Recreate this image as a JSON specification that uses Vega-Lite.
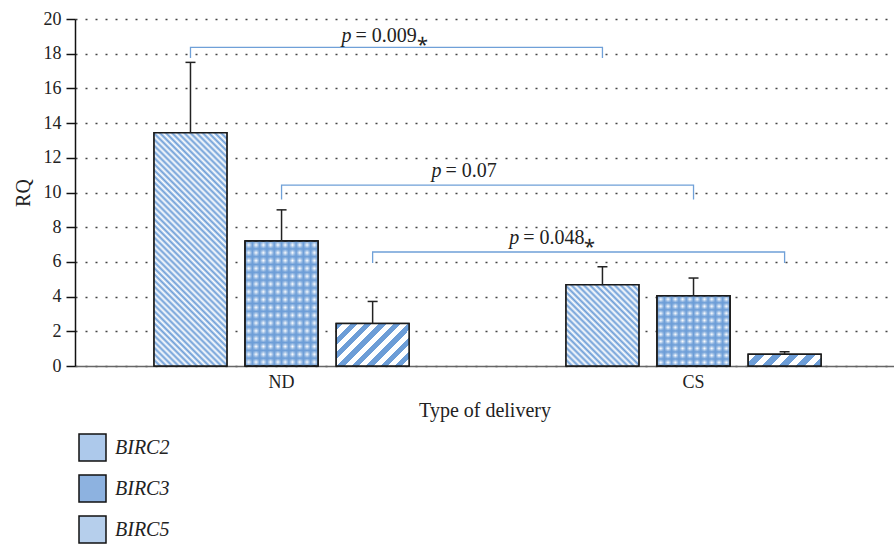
{
  "$schema": "https://vega.github.io/schema/vega-lite/v6.json",
  "width": 819,
  "height": 347,
  "autosize": {"type": "none"},
  "padding": {"left": 75, "top": 19, "right": 0, "bottom": 179},
  "background": "white",
  "config": {
    "font": "Liberation Serif",
    "view": {"stroke": null},
    "axisY": {
      "grid": true, "gridDash": [2, 8], "gridColor": "#444", "gridWidth": 1.5,
      "domainColor": "#111", "domainWidth": 1.5, "tickColor": "#111", "tickWidth": 1.5, "tickSize": 9,
      "labelFontSize": 18, "labelColor": "#222", "labelPadding": 5,
      "titleFontSize": 20, "titleFontWeight": "normal", "titleColor": "#222", "titlePadding": 10,
      "tickCount": 10
    },
    "axisX": {
      "domainColor": "#666", "domainWidth": 1.5, "ticks": false, "grid": false,
      "labelFontSize": 18, "labelColor": "#222", "labelPadding": 7, "labelAngle": 0,
      "titleFontSize": 20, "titleFontWeight": "normal", "titleColor": "#222", "titlePadding": 9
    },
    "legend": {
      "orient": "none", "legendX": 3, "legendY": 414, "direction": "vertical",
      "symbolType": "square", "symbolSize": 729, "symbolStrokeColor": "#111", "symbolStrokeWidth": 1.5,
      "symbolOpacity": 1, "labelFontSize": 20, "labelFontStyle": "italic", "labelColor": "#222",
      "labelOffset": 8, "rowPadding": 8, "padding": 0
    }
  },
  "datasets": {
    "bars": [
      {"delivery": "ND", "gene": "BIRC2", "rq": 13.45, "upper": 17.5},
      {"delivery": "ND", "gene": "BIRC3", "rq": 7.2, "upper": 9.0},
      {"delivery": "ND", "gene": "BIRC5", "rq": 2.45, "upper": 3.72},
      {"delivery": "CS", "gene": "BIRC2", "rq": 4.68, "upper": 5.72},
      {"delivery": "CS", "gene": "BIRC3", "rq": 4.05, "upper": 5.07},
      {"delivery": "CS", "gene": "BIRC5", "rq": 0.68, "upper": 0.82}
    ],
    "brackets": [
      {"bracket": "b1", "delivery": "ND", "gene": "BIRC2", "y": 17.75, "step": 1},
      {"bracket": "b1", "delivery": "ND", "gene": "BIRC2", "y": 18.37, "step": 2},
      {"bracket": "b1", "delivery": "CS", "gene": "BIRC2", "y": 18.37, "step": 3},
      {"bracket": "b1", "delivery": "CS", "gene": "BIRC2", "y": 17.75, "step": 4},
      {"bracket": "b2", "delivery": "ND", "gene": "BIRC3", "y": 9.6, "step": 1},
      {"bracket": "b2", "delivery": "ND", "gene": "BIRC3", "y": 10.43, "step": 2},
      {"bracket": "b2", "delivery": "CS", "gene": "BIRC3", "y": 10.43, "step": 3},
      {"bracket": "b2", "delivery": "CS", "gene": "BIRC3", "y": 9.6, "step": 4},
      {"bracket": "b3", "delivery": "ND", "gene": "BIRC5", "y": 5.94, "step": 1},
      {"bracket": "b3", "delivery": "ND", "gene": "BIRC5", "y": 6.57, "step": 2},
      {"bracket": "b3", "delivery": "CS", "gene": "BIRC5", "y": 6.57, "step": 3},
      {"bracket": "b3", "delivery": "CS", "gene": "BIRC5", "y": 5.94, "step": 4}
    ],
    "labels": [
      {"label": "L1", "delivery": "ND", "gene": "BIRC2", "y": 18.67, "rest": "= 0.009⁎"},
      {"label": "L2", "delivery": "ND", "gene": "BIRC3", "y": 10.89, "rest": "= 0.07"},
      {"label": "L3", "delivery": "ND", "gene": "BIRC5", "y": 7.03, "rest": "= 0.048⁎"}
    ]
  },
  "encoding": {
    "x": {
      "field": "delivery", "type": "nominal", "sort": ["ND", "CS"], "title": "Type of delivery",
      "scale": {"paddingInner": 0.381, "paddingOuter": 0.1845, "align": 0.52}
    },
    "xOffset": {
      "field": "gene", "type": "nominal", "sort": ["BIRC2", "BIRC3", "BIRC5"],
      "scale": {"paddingInner": 0.2, "paddingOuter": 0}
    }
  },
  "layer": [
    {
      "data": {"name": "bars"},
      "mark": {"type": "bar", "stroke": "#1a1a1a", "strokeWidth": 1.5},
      "encoding": {
        "y": {"field": "rq", "type": "quantitative", "title": "RQ", "scale": {"domain": [0, 20], "nice": false}},
        "fill": {
          "field": "gene", "type": "nominal", "sort": ["BIRC2", "BIRC3", "BIRC5"],
          "scale": {"range": ["#adc9eb", "#8db2e0", "#b6cfec"]},
          "legend": {"title": null, "encode": {"symbols": {"update": {
            "stroke": {"value": "#111111"},
            "strokeWidth": {"value": 1.5}
          }}}}
        }
      }
    },
    {
      "data": {"name": "bars"},
      "transform": [{"filter": "datum.delivery === 'ND' && datum.gene === 'BIRC2'"}],
      "mark": {"type": "bar", "stroke": "#1a1a1a", "strokeWidth": 1.5, "fill": {"gradient": "linear", "x1": 0, "y1": 1, "x2": 0.3735, "y2": -0.1957, "stops": [
        {"offset": 0, "color": "#6c9dd7"}, {"offset": 0.01, "color": "#ffffff"}, {"offset": 0.02, "color": "#6c9dd7"}, {"offset": 0.03, "color": "#ffffff"}, {"offset": 0.04, "color": "#6c9dd7"},
        {"offset": 0.05, "color": "#ffffff"}, {"offset": 0.06, "color": "#6c9dd7"}, {"offset": 0.07, "color": "#ffffff"}, {"offset": 0.08, "color": "#6c9dd7"}, {"offset": 0.09, "color": "#ffffff"},
        {"offset": 0.1, "color": "#6c9dd7"}, {"offset": 0.11, "color": "#ffffff"}, {"offset": 0.12, "color": "#6c9dd7"}, {"offset": 0.13, "color": "#ffffff"}, {"offset": 0.14, "color": "#6c9dd7"},
        {"offset": 0.15, "color": "#ffffff"}, {"offset": 0.16, "color": "#6c9dd7"}, {"offset": 0.17, "color": "#ffffff"}, {"offset": 0.18, "color": "#6c9dd7"}, {"offset": 0.19, "color": "#ffffff"},
        {"offset": 0.2, "color": "#6c9dd7"}, {"offset": 0.21, "color": "#ffffff"}, {"offset": 0.22, "color": "#6c9dd7"}, {"offset": 0.23, "color": "#ffffff"}, {"offset": 0.24, "color": "#6c9dd7"},
        {"offset": 0.25, "color": "#ffffff"}, {"offset": 0.26, "color": "#6c9dd7"}, {"offset": 0.27, "color": "#ffffff"}, {"offset": 0.28, "color": "#6c9dd7"}, {"offset": 0.29, "color": "#ffffff"},
        {"offset": 0.3, "color": "#6c9dd7"}, {"offset": 0.31, "color": "#ffffff"}, {"offset": 0.32, "color": "#6c9dd7"}, {"offset": 0.33, "color": "#ffffff"}, {"offset": 0.34, "color": "#6c9dd7"},
        {"offset": 0.35, "color": "#ffffff"}, {"offset": 0.36, "color": "#6c9dd7"}, {"offset": 0.37, "color": "#ffffff"}, {"offset": 0.38, "color": "#6c9dd7"}, {"offset": 0.39, "color": "#ffffff"},
        {"offset": 0.4, "color": "#6c9dd7"}, {"offset": 0.41, "color": "#ffffff"}, {"offset": 0.42, "color": "#6c9dd7"}, {"offset": 0.43, "color": "#ffffff"}, {"offset": 0.44, "color": "#6c9dd7"},
        {"offset": 0.45, "color": "#ffffff"}, {"offset": 0.46, "color": "#6c9dd7"}, {"offset": 0.47, "color": "#ffffff"}, {"offset": 0.48, "color": "#6c9dd7"}, {"offset": 0.49, "color": "#ffffff"},
        {"offset": 0.5, "color": "#6c9dd7"}, {"offset": 0.51, "color": "#ffffff"}, {"offset": 0.52, "color": "#6c9dd7"}, {"offset": 0.53, "color": "#ffffff"}, {"offset": 0.54, "color": "#6c9dd7"},
        {"offset": 0.55, "color": "#ffffff"}, {"offset": 0.56, "color": "#6c9dd7"}, {"offset": 0.57, "color": "#ffffff"}, {"offset": 0.58, "color": "#6c9dd7"}, {"offset": 0.59, "color": "#ffffff"},
        {"offset": 0.6, "color": "#6c9dd7"}, {"offset": 0.61, "color": "#ffffff"}, {"offset": 0.62, "color": "#6c9dd7"}, {"offset": 0.63, "color": "#ffffff"}, {"offset": 0.64, "color": "#6c9dd7"},
        {"offset": 0.65, "color": "#ffffff"}, {"offset": 0.66, "color": "#6c9dd7"}, {"offset": 0.67, "color": "#ffffff"}, {"offset": 0.68, "color": "#6c9dd7"}, {"offset": 0.69, "color": "#ffffff"},
        {"offset": 0.7, "color": "#6c9dd7"}, {"offset": 0.71, "color": "#ffffff"}, {"offset": 0.72, "color": "#6c9dd7"}, {"offset": 0.73, "color": "#ffffff"}, {"offset": 0.74, "color": "#6c9dd7"},
        {"offset": 0.75, "color": "#ffffff"}, {"offset": 0.76, "color": "#6c9dd7"}, {"offset": 0.77, "color": "#ffffff"}, {"offset": 0.78, "color": "#6c9dd7"}, {"offset": 0.79, "color": "#ffffff"},
        {"offset": 0.8, "color": "#6c9dd7"}, {"offset": 0.81, "color": "#ffffff"}, {"offset": 0.82, "color": "#6c9dd7"}, {"offset": 0.83, "color": "#ffffff"}, {"offset": 0.84, "color": "#6c9dd7"},
        {"offset": 0.85, "color": "#ffffff"}, {"offset": 0.86, "color": "#6c9dd7"}, {"offset": 0.87, "color": "#ffffff"}, {"offset": 0.88, "color": "#6c9dd7"}, {"offset": 0.89, "color": "#ffffff"},
        {"offset": 0.9, "color": "#6c9dd7"}, {"offset": 0.91, "color": "#ffffff"}, {"offset": 0.92, "color": "#6c9dd7"}, {"offset": 0.93, "color": "#ffffff"}, {"offset": 0.94, "color": "#6c9dd7"},
        {"offset": 0.95, "color": "#ffffff"}, {"offset": 0.96, "color": "#6c9dd7"}, {"offset": 0.97, "color": "#ffffff"}, {"offset": 0.98, "color": "#6c9dd7"}, {"offset": 0.99, "color": "#ffffff"},
        {"offset": 1, "color": "#6c9dd7"}
      ]}},
      "encoding": {"y": {"field": "rq", "type": "quantitative", "title": "RQ"}}
    },
    {
      "data": {"name": "bars"},
      "transform": [{"filter": "datum.delivery === 'CS' && datum.gene === 'BIRC2'"}],
      "mark": {"type": "bar", "stroke": "#1a1a1a", "strokeWidth": 1.5, "fill": {"gradient": "linear", "x1": 0, "y1": 1, "x2": 0.9435, "y2": -0.0509, "stops": [
        {"offset": 0, "color": "#6c9dd7"}, {"offset": 0.02, "color": "#ffffff"}, {"offset": 0.04, "color": "#6c9dd7"}, {"offset": 0.06, "color": "#ffffff"}, {"offset": 0.08, "color": "#6c9dd7"},
        {"offset": 0.1, "color": "#ffffff"}, {"offset": 0.12, "color": "#6c9dd7"}, {"offset": 0.14, "color": "#ffffff"}, {"offset": 0.16, "color": "#6c9dd7"}, {"offset": 0.18, "color": "#ffffff"},
        {"offset": 0.2, "color": "#6c9dd7"}, {"offset": 0.22, "color": "#ffffff"}, {"offset": 0.24, "color": "#6c9dd7"}, {"offset": 0.26, "color": "#ffffff"}, {"offset": 0.28, "color": "#6c9dd7"},
        {"offset": 0.3, "color": "#ffffff"}, {"offset": 0.32, "color": "#6c9dd7"}, {"offset": 0.34, "color": "#ffffff"}, {"offset": 0.36, "color": "#6c9dd7"}, {"offset": 0.38, "color": "#ffffff"},
        {"offset": 0.4, "color": "#6c9dd7"}, {"offset": 0.42, "color": "#ffffff"}, {"offset": 0.44, "color": "#6c9dd7"}, {"offset": 0.46, "color": "#ffffff"}, {"offset": 0.48, "color": "#6c9dd7"},
        {"offset": 0.5, "color": "#ffffff"}, {"offset": 0.52, "color": "#6c9dd7"}, {"offset": 0.54, "color": "#ffffff"}, {"offset": 0.56, "color": "#6c9dd7"}, {"offset": 0.58, "color": "#ffffff"},
        {"offset": 0.6, "color": "#6c9dd7"}, {"offset": 0.62, "color": "#ffffff"}, {"offset": 0.64, "color": "#6c9dd7"}, {"offset": 0.66, "color": "#ffffff"}, {"offset": 0.68, "color": "#6c9dd7"},
        {"offset": 0.7, "color": "#ffffff"}, {"offset": 0.72, "color": "#6c9dd7"}, {"offset": 0.74, "color": "#ffffff"}, {"offset": 0.76, "color": "#6c9dd7"}, {"offset": 0.78, "color": "#ffffff"},
        {"offset": 0.8, "color": "#6c9dd7"}, {"offset": 0.82, "color": "#ffffff"}, {"offset": 0.84, "color": "#6c9dd7"}, {"offset": 0.86, "color": "#ffffff"}, {"offset": 0.88, "color": "#6c9dd7"},
        {"offset": 0.9, "color": "#ffffff"}, {"offset": 0.92, "color": "#6c9dd7"}, {"offset": 0.94, "color": "#ffffff"}, {"offset": 0.96, "color": "#6c9dd7"}, {"offset": 0.98, "color": "#ffffff"},
        {"offset": 1, "color": "#6c9dd7"}
      ]}},
      "encoding": {"y": {"field": "rq", "type": "quantitative", "title": "RQ"}}
    },
    {
      "data": {"name": "bars"},
      "transform": [{"filter": "datum.delivery === 'ND' && datum.gene === 'BIRC3'"}],
      "mark": {"type": "bar", "stroke": "#1a1a1a", "strokeWidth": 1.5, "fill": {"gradient": "linear", "x1": 0, "y1": 0, "x2": 0, "y2": 1, "stops": [
        {"offset": 0, "color": "#6c9dd7"}, {"offset": 0.03125, "color": "#ffffff"}, {"offset": 0.0625, "color": "#6c9dd7"}, {"offset": 0.09375, "color": "#ffffff"},
        {"offset": 0.125, "color": "#6c9dd7"}, {"offset": 0.15625, "color": "#ffffff"}, {"offset": 0.1875, "color": "#6c9dd7"}, {"offset": 0.21875, "color": "#ffffff"},
        {"offset": 0.25, "color": "#6c9dd7"}, {"offset": 0.28125, "color": "#ffffff"}, {"offset": 0.3125, "color": "#6c9dd7"}, {"offset": 0.34375, "color": "#ffffff"},
        {"offset": 0.375, "color": "#6c9dd7"}, {"offset": 0.40625, "color": "#ffffff"}, {"offset": 0.4375, "color": "#6c9dd7"}, {"offset": 0.46875, "color": "#ffffff"},
        {"offset": 0.5, "color": "#6c9dd7"}, {"offset": 0.53125, "color": "#ffffff"}, {"offset": 0.5625, "color": "#6c9dd7"}, {"offset": 0.59375, "color": "#ffffff"},
        {"offset": 0.625, "color": "#6c9dd7"}, {"offset": 0.65625, "color": "#ffffff"}, {"offset": 0.6875, "color": "#6c9dd7"}, {"offset": 0.71875, "color": "#ffffff"},
        {"offset": 0.75, "color": "#6c9dd7"}, {"offset": 0.78125, "color": "#ffffff"}, {"offset": 0.8125, "color": "#6c9dd7"}, {"offset": 0.84375, "color": "#ffffff"},
        {"offset": 0.875, "color": "#6c9dd7"}, {"offset": 0.90625, "color": "#ffffff"}, {"offset": 0.9375, "color": "#6c9dd7"}, {"offset": 0.96875, "color": "#ffffff"},
        {"offset": 1, "color": "#6c9dd7"}
      ]}},
      "encoding": {"y": {"field": "rq", "type": "quantitative", "title": "RQ"}}
    },
    {
      "data": {"name": "bars"},
      "transform": [{"filter": "datum.delivery === 'CS' && datum.gene === 'BIRC3'"}],
      "mark": {"type": "bar", "stroke": "#1a1a1a", "strokeWidth": 1.5, "fill": {"gradient": "linear", "x1": 0, "y1": 0, "x2": 0, "y2": 1, "stops": [
        {"offset": 0, "color": "#6c9dd7"}, {"offset": 0.05, "color": "#ffffff"}, {"offset": 0.1, "color": "#6c9dd7"}, {"offset": 0.15, "color": "#ffffff"},
        {"offset": 0.2, "color": "#6c9dd7"}, {"offset": 0.25, "color": "#ffffff"}, {"offset": 0.3, "color": "#6c9dd7"}, {"offset": 0.35, "color": "#ffffff"},
        {"offset": 0.4, "color": "#6c9dd7"}, {"offset": 0.45, "color": "#ffffff"}, {"offset": 0.5, "color": "#6c9dd7"}, {"offset": 0.55, "color": "#ffffff"},
        {"offset": 0.6, "color": "#6c9dd7"}, {"offset": 0.65, "color": "#ffffff"}, {"offset": 0.7, "color": "#6c9dd7"}, {"offset": 0.75, "color": "#ffffff"},
        {"offset": 0.8, "color": "#6c9dd7"}, {"offset": 0.85, "color": "#ffffff"}, {"offset": 0.9, "color": "#6c9dd7"}, {"offset": 0.95, "color": "#ffffff"},
        {"offset": 1, "color": "#6c9dd7"}
      ]}},
      "encoding": {"y": {"field": "rq", "type": "quantitative", "title": "RQ"}}
    },
    {
      "data": {"name": "bars"},
      "transform": [{"filter": "datum.gene === 'BIRC3'"}],
      "mark": {"type": "bar", "stroke": "#1a1a1a", "strokeWidth": 1.5, "fill": {"gradient": "linear", "x1": 0, "y1": 0, "x2": 1, "y2": 0, "stops": [
        {"offset": 0, "color": "rgba(108,157,215,1)"}, {"offset": 0.05, "color": "rgba(108,157,215,0)"}, {"offset": 0.1, "color": "rgba(108,157,215,1)"}, {"offset": 0.15, "color": "rgba(108,157,215,0)"},
        {"offset": 0.2, "color": "rgba(108,157,215,1)"}, {"offset": 0.25, "color": "rgba(108,157,215,0)"}, {"offset": 0.3, "color": "rgba(108,157,215,1)"}, {"offset": 0.35, "color": "rgba(108,157,215,0)"},
        {"offset": 0.4, "color": "rgba(108,157,215,1)"}, {"offset": 0.45, "color": "rgba(108,157,215,0)"}, {"offset": 0.5, "color": "rgba(108,157,215,1)"}, {"offset": 0.55, "color": "rgba(108,157,215,0)"},
        {"offset": 0.6, "color": "rgba(108,157,215,1)"}, {"offset": 0.65, "color": "rgba(108,157,215,0)"}, {"offset": 0.7, "color": "rgba(108,157,215,1)"}, {"offset": 0.75, "color": "rgba(108,157,215,0)"},
        {"offset": 0.8, "color": "rgba(108,157,215,1)"}, {"offset": 0.85, "color": "rgba(108,157,215,0)"}, {"offset": 0.9, "color": "rgba(108,157,215,1)"}, {"offset": 0.95, "color": "rgba(108,157,215,0)"},
        {"offset": 1, "color": "rgba(108,157,215,1)"}
      ]}},
      "encoding": {"y": {"field": "rq", "type": "quantitative", "title": "RQ"}}
    },
    {
      "data": {"name": "bars"},
      "transform": [{"filter": "datum.delivery === 'ND' && datum.gene === 'BIRC5'"}],
      "mark": {"type": "bar", "stroke": "#1a1a1a", "strokeWidth": 1.5, "fill": {"gradient": "linear", "x1": 0, "y1": 0, "x2": 1.1816, "y2": 0.6888, "stops": [
        {"offset": 0, "color": "#6c9dd7"}, {"offset": 0.0625, "color": "#6c9dd7"}, {"offset": 0.0625, "color": "#ffffff"}, {"offset": 0.125, "color": "#ffffff"},
        {"offset": 0.125, "color": "#6c9dd7"}, {"offset": 0.1875, "color": "#6c9dd7"}, {"offset": 0.1875, "color": "#ffffff"}, {"offset": 0.25, "color": "#ffffff"},
        {"offset": 0.25, "color": "#6c9dd7"}, {"offset": 0.3125, "color": "#6c9dd7"}, {"offset": 0.3125, "color": "#ffffff"}, {"offset": 0.375, "color": "#ffffff"},
        {"offset": 0.375, "color": "#6c9dd7"}, {"offset": 0.4375, "color": "#6c9dd7"}, {"offset": 0.4375, "color": "#ffffff"}, {"offset": 0.5, "color": "#ffffff"},
        {"offset": 0.5, "color": "#6c9dd7"}, {"offset": 0.5625, "color": "#6c9dd7"}, {"offset": 0.5625, "color": "#ffffff"}, {"offset": 0.625, "color": "#ffffff"},
        {"offset": 0.625, "color": "#6c9dd7"}, {"offset": 0.6875, "color": "#6c9dd7"}, {"offset": 0.6875, "color": "#ffffff"}, {"offset": 0.75, "color": "#ffffff"},
        {"offset": 0.75, "color": "#6c9dd7"}, {"offset": 0.8125, "color": "#6c9dd7"}, {"offset": 0.8125, "color": "#ffffff"}, {"offset": 0.875, "color": "#ffffff"},
        {"offset": 0.875, "color": "#6c9dd7"}, {"offset": 0.9375, "color": "#6c9dd7"}, {"offset": 0.9375, "color": "#ffffff"}, {"offset": 1, "color": "#ffffff"}
      ]}},
      "encoding": {"y": {"field": "rq", "type": "quantitative", "title": "RQ"}}
    },
    {
      "data": {"name": "bars"},
      "transform": [{"filter": "datum.delivery === 'CS' && datum.gene === 'BIRC5'"}],
      "mark": {"type": "bar", "stroke": "#1a1a1a", "strokeWidth": 1.5, "fill": {"gradient": "linear", "x1": 0, "y1": 0, "x2": 1.1324, "y2": 0.1833, "stops": [
        {"offset": 0, "color": "#ffffff"}, {"offset": 0.1, "color": "#ffffff"}, {"offset": 0.1, "color": "#6c9dd7"}, {"offset": 0.2, "color": "#6c9dd7"},
        {"offset": 0.2, "color": "#ffffff"}, {"offset": 0.3, "color": "#ffffff"}, {"offset": 0.3, "color": "#6c9dd7"}, {"offset": 0.4, "color": "#6c9dd7"},
        {"offset": 0.4, "color": "#ffffff"}, {"offset": 0.5, "color": "#ffffff"}, {"offset": 0.5, "color": "#6c9dd7"}, {"offset": 0.6, "color": "#6c9dd7"},
        {"offset": 0.6, "color": "#ffffff"}, {"offset": 0.7, "color": "#ffffff"}, {"offset": 0.7, "color": "#6c9dd7"}, {"offset": 0.8, "color": "#6c9dd7"},
        {"offset": 0.8, "color": "#ffffff"}, {"offset": 0.9, "color": "#ffffff"}, {"offset": 0.9, "color": "#6c9dd7"}, {"offset": 1, "color": "#6c9dd7"}
      ]}},
      "encoding": {"y": {"field": "rq", "type": "quantitative", "title": "RQ"}}
    },
    {
      "data": {"name": "bars"},
      "mark": {"type": "rule", "color": "#222", "strokeWidth": 1.5},
      "encoding": {
        "y": {"field": "rq", "type": "quantitative", "title": "RQ"},
        "y2": {"field": "upper"}
      }
    },
    {
      "data": {"name": "bars"},
      "mark": {"type": "tick", "orient": "horizontal", "size": 10, "thickness": 1.5, "color": "#222", "opacity": 1},
      "encoding": {
        "y": {"field": "upper", "type": "quantitative", "title": "RQ"}
      }
    },
    {
      "data": {"name": "brackets"},
      "mark": {"type": "line", "color": "#6fa0d8", "strokeWidth": 1.3},
      "encoding": {
        "y": {"field": "y", "type": "quantitative", "title": "RQ"},
        "detail": {"field": "bracket"},
        "order": {"field": "step", "type": "quantitative"}
      }
    },
    {
      "data": {"name": "labels"},
      "transform": [{"filter": "datum.label === 'L1'"}],
      "layer": [
        {"mark": {"type": "text", "text": "p", "fontStyle": "italic", "fontSize": 20, "align": "left", "baseline": "alphabetic", "dx": 151, "color": "#222"}},
        {"mark": {"type": "text", "fontSize": 20, "align": "left", "baseline": "alphabetic", "dx": 165, "color": "#222"}, "encoding": {"text": {"field": "rest"}}}
      ],
      "encoding": {"y": {"field": "y", "type": "quantitative", "title": "RQ"}}
    },
    {
      "data": {"name": "labels"},
      "transform": [{"filter": "datum.label === 'L2'"}],
      "layer": [
        {"mark": {"type": "text", "text": "p", "fontStyle": "italic", "fontSize": 20, "align": "left", "baseline": "alphabetic", "dx": 150, "color": "#222"}},
        {"mark": {"type": "text", "fontSize": 20, "align": "left", "baseline": "alphabetic", "dx": 164, "color": "#222"}, "encoding": {"text": {"field": "rest"}}}
      ],
      "encoding": {"y": {"field": "y", "type": "quantitative", "title": "RQ"}}
    },
    {
      "data": {"name": "labels"},
      "transform": [{"filter": "datum.label === 'L3'"}],
      "layer": [
        {"mark": {"type": "text", "text": "p", "fontStyle": "italic", "fontSize": 20, "align": "left", "baseline": "alphabetic", "dx": 136.5, "color": "#222"}},
        {"mark": {"type": "text", "fontSize": 20, "align": "left", "baseline": "alphabetic", "dx": 150.5, "color": "#222"}, "encoding": {"text": {"field": "rest"}}}
      ],
      "encoding": {"y": {"field": "y", "type": "quantitative", "title": "RQ"}}
    }
  ]
}
